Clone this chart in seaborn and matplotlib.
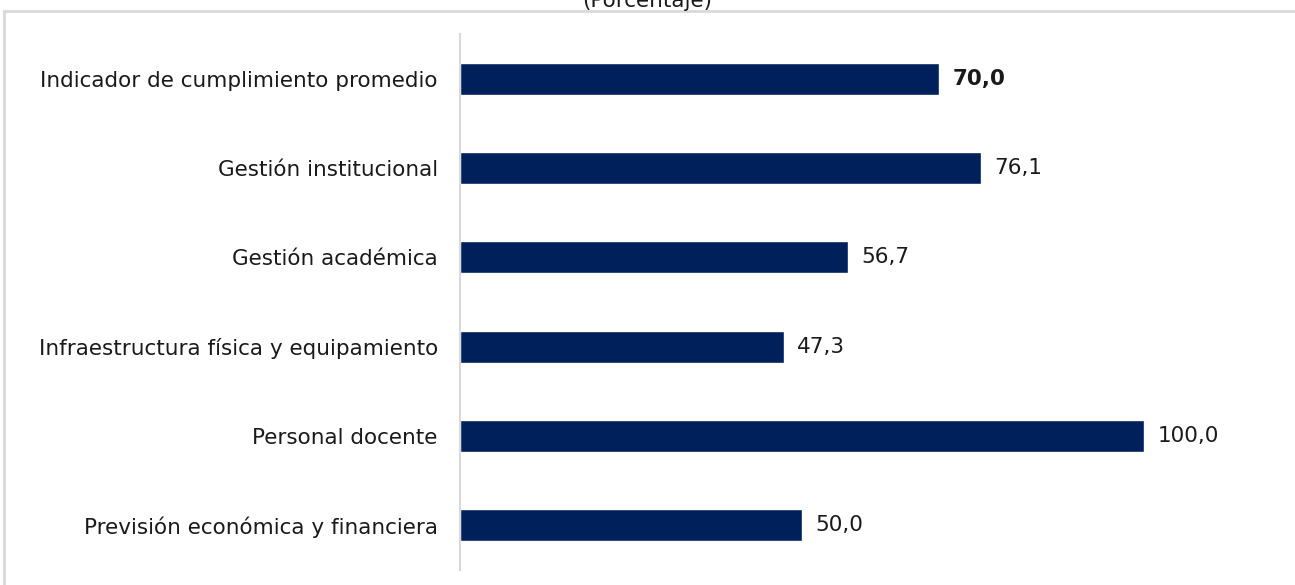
import matplotlib
matplotlib.use("Agg")
import matplotlib.pyplot as plt
import seaborn as sns
import pandas as pd
from matplotlib.patches import Rectangle

categories = [
    "Indicador de cumplimiento promedio",
    "Gestión institucional",
    "Gestión académica",
    "Infraestructura física y equipamiento",
    "Personal docente",
    "Previsión económica y financiera",
]
values = [70.0, 76.1, 56.7, 47.3, 100.0, 50.0]
value_labels = ["70,0", "76,1", "56,7", "47,3", "100,0", "50,0"]

df = pd.DataFrame({"cat": categories, "val": values})

sns.set_style("white")
plt.rcParams["font.family"] = ["DejaVu Sans"]

fig = plt.figure(figsize=(12.95, 5.85), dpi=100)
ax = fig.add_axes([460 / 1295, 15 / 585, 800 / 1295, 536 / 585])

sns.barplot(data=df, x="val", y="cat", orient="h", color="#00205b",
            width=0.36, saturation=1, ax=ax)

ax.set_xlim(0, 800 / 6.84)
ax.set_ylim(5.5, -0.5)
ax.set_xlabel("")
ax.set_ylabel("")
ax.set_xticks([])
ax.tick_params(axis="y", length=0, pad=16, labelsize=15.5, labelcolor="#1a1a1a")

for side in ["top", "right", "bottom"]:
    ax.spines[side].set_visible(False)
ax.spines["left"].set_color("#d9d9d9")
ax.spines["left"].set_linewidth(1.5)

# etiquetas de valor, la primera en negrita
for i, (v, lab) in enumerate(zip(values, value_labels)):
    ax.text(v + 2.0, i, lab, va="center", ha="left", fontsize=15.5,
            color="#1a1a1a", fontweight="bold" if i == 0 else "normal")

# marco gris del grafico
fig.patches.append(Rectangle((4 / 1295, -0.1), 1.2, (585 - 11) / 585 + 0.1,
                             transform=fig.transFigure, fill=False,
                             edgecolor="#d9d9d9", linewidth=2))

fig.text(0.5, (585 - 1) / 585, "(Porcentaje)", ha="center", va="center",
         fontsize=15.5, color="#1a1a1a")

fig.savefig("out.png", dpi=100)
